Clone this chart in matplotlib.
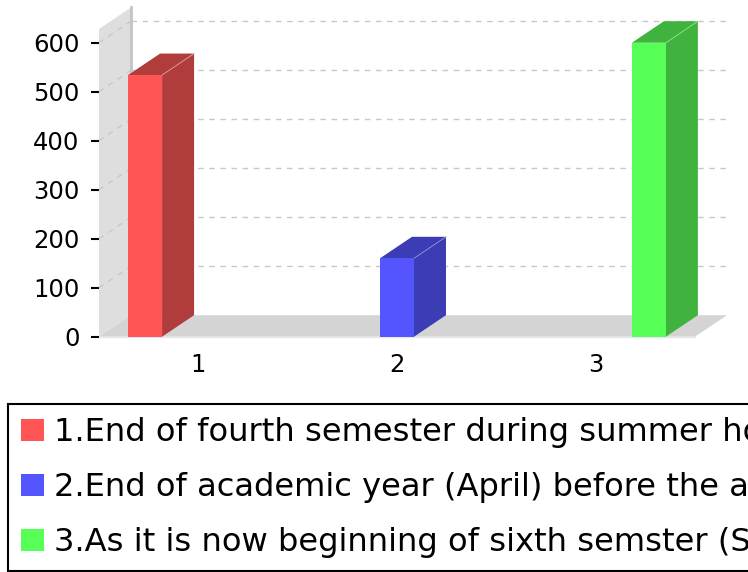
import matplotlib
matplotlib.use('Agg')
from matplotlib import pyplot as plt
from matplotlib.patches import Polygon, Rectangle, Patch

# data
categories = ['1', '2', '3']
series_labels = ['1.End of fourth semester during summer holidays',
                 '2.End of academic year (April) before the annual exams',
                 '3.As it is now beginning of sixth semster (September)']
series_values = [[534, 0, 0],
                 [0, 160, 0],
                 [0, 0, 600]]
front_colors = ['#ff5555', '#5555ff', '#55ff55']
side_colors = ['#b03c3c', '#3c3cb4', '#40b23e']
y_ticks = [0, 100, 200, 300, 400, 500, 600]

W, H = 748, 572
fig = plt.figure(figsize=(W / 100, H / 100), dpi=100)

# axes placed in pixels (front plane of the fake 3d box)
left, right, top, bottom = 99, 695, 29, 336.7
ax = fig.add_axes([left / W, (H - bottom) / H, (right - left) / W, (bottom - top) / H])
ymax = 628
ax.set_xlim(0, len(categories))
ax.set_ylim(0, ymax)
for s in ax.spines.values():
    s.set_visible(False)

# depth offset in data units
depth_px_x, depth_px_y = 32, 21.5
dx = depth_px_x * len(categories) / (right - left)
dy = depth_px_y * ymax / (bottom - top)
n = len(categories)

# left wall and floor
ax.add_patch(Polygon([(0, 0), (dx, dy), (dx, ymax + dy), (0, ymax)], closed=True,
                     facecolor='#dedede', edgecolor='none', clip_on=False, zorder=1))
ax.plot([dx, dx], [dy, ymax + dy], color='#c4c4c4', lw=2, clip_on=False, zorder=1.5)
ax.add_patch(Polygon([(0, 0), (n, 0), (n + dx, dy), (dx, dy)], closed=True,
                     facecolor='#d4d4d4', edgecolor='none', clip_on=False, zorder=1))
ax.plot([0, n], [0, 0], color='#e6e6ee', lw=1, clip_on=False, zorder=1.2)

# grid on back plane and wall
for y in y_ticks[1:]:
    ax.plot([dx, n + dx], [y + dy, y + dy], color='#c8c8c8', lw=1, ls=(0, (4, 4)),
            clip_on=False, zorder=1.6)
    ax.plot([0, dx], [y, y + dy], color='#c8c8c8', lw=1, ls=(0, (4, 4)),
            clip_on=False, zorder=1.6)

# bars
slot = 0.268
bw = 0.171
edge_light = ['#d9a0a0', '#8c8ce0', '#8ee08c']
for i, vals in enumerate(series_values):
    for j, v in enumerate(vals):
        if v <= 0:
            continue
        xc = j + 0.5 + (i - 1) * slot
        x0, x1 = xc - bw / 2, xc + bw / 2
        ax.add_patch(Polygon([(x1, 0), (x1 + dx, dy), (x1 + dx, v + dy), (x1, v)], closed=True,
                             facecolor=side_colors[i], edgecolor='none', clip_on=False, zorder=3))
        ax.add_patch(Polygon([(x0, v), (x1, v), (x1 + dx, v + dy), (x0 + dx, v + dy)], closed=True,
                             facecolor=side_colors[i], edgecolor='none', clip_on=False, zorder=3))
        ax.plot([x1, x1 + dx], [v, v + dy], color=edge_light[i], lw=0.6, clip_on=False, zorder=3.5)
        ax.add_patch(Rectangle((x0, 0), bw, v, facecolor=front_colors[i], edgecolor='none',
                               clip_on=False, zorder=4))

ax.set_yticks(y_ticks)
ax.set_xticks([j + 0.5 for j in range(n)])
ax.set_xticklabels(categories)
ax.tick_params(axis='y', length=6, width=1.5, color='black', pad=8, labelsize=17.5)
ax.tick_params(axis='x', length=0, pad=12, labelsize=17.5)

handles = [Patch(facecolor=c, edgecolor='none') for c in front_colors]
leg = fig.legend(handles, series_labels, loc='upper left', bbox_to_anchor=(8 / W, 1 - 404 / H),
                 fontsize=23.1, frameon=True, fancybox=False, framealpha=1, edgecolor='black',
                 handlelength=0.69, handleheight=0.69, handletextpad=0.32, labelspacing=0.74,
                 borderpad=0.42, borderaxespad=0)
leg.get_frame().set_linewidth(1.5)

fig.savefig('out.png', dpi=100)
